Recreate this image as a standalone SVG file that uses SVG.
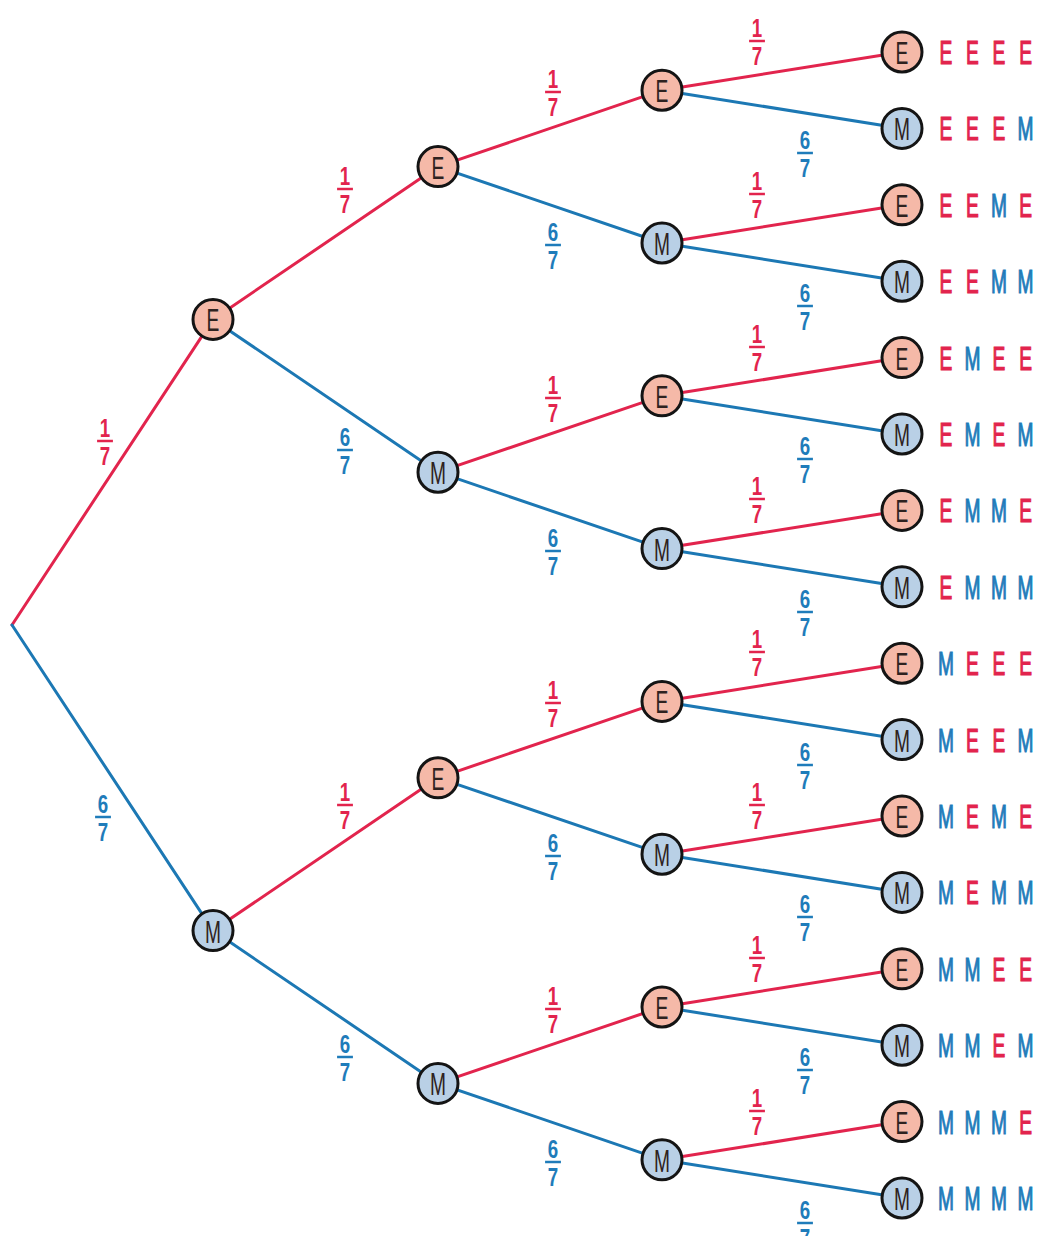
<svg xmlns="http://www.w3.org/2000/svg" width="1039" height="1236" viewBox="0 0 1039 1236">
  <defs>
    <style>
      .bg { fill: #ffffff; }
      .edge { stroke-width: 3; stroke-linecap: round; fill: none; }
      .re { stroke: #e2244d; }
      .be { stroke: #1c78b4; }
      .node circle { stroke: #141414; stroke-width: 3; }
      .ne circle { fill: #f5b9a8; }
      .nm circle { fill: #b9d0e6; }
      .node text { font-family: "Liberation Sans", Arial, sans-serif; font-size: 32px; fill: #2e2220; text-anchor: middle; }
      .frac text { font-family: "Liberation Sans", Arial, sans-serif; font-size: 26px; font-weight: bold; text-anchor: middle; }
      .fr text { fill: #e2244d; }
      .fr line { stroke: #e2244d; }
      .fb text { fill: #1f7cba; }
      .fb line { stroke: #1f7cba; }
      .frac line { stroke-width: 2.5; }
      .out text { font-family: "Liberation Sans", Arial, sans-serif; font-size: 33px; text-anchor: middle; stroke-width: 1.2; }
      .e { fill: #e2244d; stroke: #e2244d; }
      .m { fill: #1f7cba; stroke: #1f7cba; }
    </style>
    <!-- fraction templates: numerator, bar, denominator around the bar centre -->
    <g id="f17" class="frac fr">
      <text x="0" y="-4">1</text>
      <line x1="-11" y1="0" x2="11" y2="0"/>
      <text x="0" y="24">7</text>
    </g>
    <g id="f67" class="frac fb">
      <text x="0" y="-4">6</text>
      <line x1="-11" y1="0" x2="11" y2="0"/>
      <text x="0" y="24">7</text>
    </g>
  </defs>

  <rect class="bg" x="0" y="0" width="1039" height="1236"/>

  <!-- branches -->
  <g id="connectors">
    <line class="edge re" x1="12" y1="625" x2="213" y2="319.4"/>
    <line class="edge be" x1="12" y1="625" x2="213" y2="930.6"/>

    <line class="edge re" x1="213" y1="319.4" x2="438" y2="166.6"/>
    <line class="edge be" x1="213" y1="319.4" x2="438" y2="472.2"/>
    <line class="edge re" x1="213" y1="930.6" x2="438" y2="777.8"/>
    <line class="edge be" x1="213" y1="930.6" x2="438" y2="1083.4"/>

    <line class="edge re" x1="438" y1="166.6" x2="662" y2="90.2"/>
    <line class="edge be" x1="438" y1="166.6" x2="662" y2="243"/>
    <line class="edge re" x1="438" y1="472.2" x2="662" y2="395.8"/>
    <line class="edge be" x1="438" y1="472.2" x2="662" y2="548.6"/>
    <line class="edge re" x1="438" y1="777.8" x2="662" y2="701.4"/>
    <line class="edge be" x1="438" y1="777.8" x2="662" y2="854.2"/>
    <line class="edge re" x1="438" y1="1083.4" x2="662" y2="1007"/>
    <line class="edge be" x1="438" y1="1083.4" x2="662" y2="1159.8"/>

    <line class="edge re" x1="662" y1="90.2" x2="902" y2="52"/>
    <line class="edge be" x1="662" y1="90.2" x2="902" y2="128.4"/>
    <line class="edge re" x1="662" y1="243" x2="902" y2="204.8"/>
    <line class="edge be" x1="662" y1="243" x2="902" y2="281.2"/>
    <line class="edge re" x1="662" y1="395.8" x2="902" y2="357.6"/>
    <line class="edge be" x1="662" y1="395.8" x2="902" y2="434"/>
    <line class="edge re" x1="662" y1="548.6" x2="902" y2="510.4"/>
    <line class="edge be" x1="662" y1="548.6" x2="902" y2="586.8"/>
    <line class="edge re" x1="662" y1="701.4" x2="902" y2="663.2"/>
    <line class="edge be" x1="662" y1="701.4" x2="902" y2="739.6"/>
    <line class="edge re" x1="662" y1="854.2" x2="902" y2="816"/>
    <line class="edge be" x1="662" y1="854.2" x2="902" y2="892.4"/>
    <line class="edge re" x1="662" y1="1007" x2="902" y2="968.8"/>
    <line class="edge be" x1="662" y1="1007" x2="902" y2="1045.2"/>
    <line class="edge re" x1="662" y1="1159.8" x2="902" y2="1121.6"/>
    <line class="edge be" x1="662" y1="1159.8" x2="902" y2="1198"/>
  </g>

  <!-- branch probabilities -->
  <g id="probabilities">
    <use href="#f17" transform="translate(105,441) scale(0.72,1)"/>
    <use href="#f67" transform="translate(103,817) scale(0.72,1)"/>

    <use href="#f17" transform="translate(345,189) scale(0.72,1)"/>
    <use href="#f67" transform="translate(345,450) scale(0.72,1)"/>
    <use href="#f17" transform="translate(345,805) scale(0.72,1)"/>
    <use href="#f67" transform="translate(345,1057) scale(0.72,1)"/>

    <use href="#f17" transform="translate(553,92) scale(0.72,1)"/>
    <use href="#f67" transform="translate(553,245) scale(0.72,1)"/>
    <use href="#f17" transform="translate(553,398) scale(0.72,1)"/>
    <use href="#f67" transform="translate(553,551) scale(0.72,1)"/>
    <use href="#f17" transform="translate(553,703) scale(0.72,1)"/>
    <use href="#f67" transform="translate(553,856) scale(0.72,1)"/>
    <use href="#f17" transform="translate(553,1009) scale(0.72,1)"/>
    <use href="#f67" transform="translate(553,1162) scale(0.72,1)"/>

    <use href="#f17" transform="translate(757,41) scale(0.72,1)"/>
    <use href="#f67" transform="translate(805,153) scale(0.72,1)"/>
    <use href="#f17" transform="translate(757,194) scale(0.72,1)"/>
    <use href="#f67" transform="translate(805,306) scale(0.72,1)"/>
    <use href="#f17" transform="translate(757,347) scale(0.72,1)"/>
    <use href="#f67" transform="translate(805,459) scale(0.72,1)"/>
    <use href="#f17" transform="translate(757,499) scale(0.72,1)"/>
    <use href="#f67" transform="translate(805,612) scale(0.72,1)"/>
    <use href="#f17" transform="translate(757,652) scale(0.72,1)"/>
    <use href="#f67" transform="translate(805,765) scale(0.72,1)"/>
    <use href="#f17" transform="translate(757,805) scale(0.72,1)"/>
    <use href="#f67" transform="translate(805,917) scale(0.72,1)"/>
    <use href="#f17" transform="translate(757,958) scale(0.72,1)"/>
    <use href="#f67" transform="translate(805,1070) scale(0.72,1)"/>
    <use href="#f17" transform="translate(757,1111) scale(0.72,1)"/>
    <use href="#f67" transform="translate(805,1223) scale(0.72,1)"/>
  </g>

  <!-- level 1 -->
  <g id="n-E" class="node ne" transform="translate(213,319.4)"><circle r="20"/><text transform="scale(0.6,1)" y="12">E</text></g>
  <g id="n-M" class="node nm" transform="translate(213,930.6)"><circle r="20"/><text transform="scale(0.6,1)" y="12">M</text></g>

  <!-- level 2 -->
  <g id="n-EE" class="node ne" transform="translate(438,166.6)"><circle r="20"/><text transform="scale(0.6,1)" y="12">E</text></g>
  <g id="n-EM" class="node nm" transform="translate(438,472.2)"><circle r="20"/><text transform="scale(0.6,1)" y="12">M</text></g>
  <g id="n-ME" class="node ne" transform="translate(438,777.8)"><circle r="20"/><text transform="scale(0.6,1)" y="12">E</text></g>
  <g id="n-MM" class="node nm" transform="translate(438,1083.4)"><circle r="20"/><text transform="scale(0.6,1)" y="12">M</text></g>

  <!-- level 3 -->
  <g id="n-EEE" class="node ne" transform="translate(662,90.2)"><circle r="20"/><text transform="scale(0.6,1)" y="12">E</text></g>
  <g id="n-EEM" class="node nm" transform="translate(662,243)"><circle r="20"/><text transform="scale(0.6,1)" y="12">M</text></g>
  <g id="n-EME" class="node ne" transform="translate(662,395.8)"><circle r="20"/><text transform="scale(0.6,1)" y="12">E</text></g>
  <g id="n-EMM" class="node nm" transform="translate(662,548.6)"><circle r="20"/><text transform="scale(0.6,1)" y="12">M</text></g>
  <g id="n-MEE" class="node ne" transform="translate(662,701.4)"><circle r="20"/><text transform="scale(0.6,1)" y="12">E</text></g>
  <g id="n-MEM" class="node nm" transform="translate(662,854.2)"><circle r="20"/><text transform="scale(0.6,1)" y="12">M</text></g>
  <g id="n-MME" class="node ne" transform="translate(662,1007)"><circle r="20"/><text transform="scale(0.6,1)" y="12">E</text></g>
  <g id="n-MMM" class="node nm" transform="translate(662,1159.8)"><circle r="20"/><text transform="scale(0.6,1)" y="12">M</text></g>

  <!-- level 4 (leaves) -->
  <g id="n-EEEE" class="node ne" transform="translate(902,52)"><circle r="20"/><text transform="scale(0.6,1)" y="12">E</text></g>
  <g id="n-EEEM" class="node nm" transform="translate(902,128.4)"><circle r="20"/><text transform="scale(0.6,1)" y="12">M</text></g>
  <g id="n-EEME" class="node ne" transform="translate(902,204.8)"><circle r="20"/><text transform="scale(0.6,1)" y="12">E</text></g>
  <g id="n-EEMM" class="node nm" transform="translate(902,281.2)"><circle r="20"/><text transform="scale(0.6,1)" y="12">M</text></g>
  <g id="n-EMEE" class="node ne" transform="translate(902,357.6)"><circle r="20"/><text transform="scale(0.6,1)" y="12">E</text></g>
  <g id="n-EMEM" class="node nm" transform="translate(902,434)"><circle r="20"/><text transform="scale(0.6,1)" y="12">M</text></g>
  <g id="n-EMME" class="node ne" transform="translate(902,510.4)"><circle r="20"/><text transform="scale(0.6,1)" y="12">E</text></g>
  <g id="n-EMMM" class="node nm" transform="translate(902,586.8)"><circle r="20"/><text transform="scale(0.6,1)" y="12">M</text></g>
  <g id="n-MEEE" class="node ne" transform="translate(902,663.2)"><circle r="20"/><text transform="scale(0.6,1)" y="12">E</text></g>
  <g id="n-MEEM" class="node nm" transform="translate(902,739.6)"><circle r="20"/><text transform="scale(0.6,1)" y="12">M</text></g>
  <g id="n-MEME" class="node ne" transform="translate(902,816)"><circle r="20"/><text transform="scale(0.6,1)" y="12">E</text></g>
  <g id="n-MEMM" class="node nm" transform="translate(902,892.4)"><circle r="20"/><text transform="scale(0.6,1)" y="12">M</text></g>
  <g id="n-MMEE" class="node ne" transform="translate(902,968.8)"><circle r="20"/><text transform="scale(0.6,1)" y="12">E</text></g>
  <g id="n-MMEM" class="node nm" transform="translate(902,1045.2)"><circle r="20"/><text transform="scale(0.6,1)" y="12">M</text></g>
  <g id="n-MMME" class="node ne" transform="translate(902,1121.6)"><circle r="20"/><text transform="scale(0.6,1)" y="12">E</text></g>
  <g id="n-MMMM" class="node nm" transform="translate(902,1198)"><circle r="20"/><text transform="scale(0.6,1)" y="12">M</text></g>

  <!-- outcome sequences -->
  <g id="outcomes" class="out">
    <g transform="translate(946,64) scale(0.58,1)"><text><tspan x="0" class="e">E</tspan><tspan x="45.7" class="e">E</tspan><tspan x="91.4" class="e">E</tspan><tspan x="137.1" class="e">E</tspan></text></g>
    <g transform="translate(946,140.4) scale(0.58,1)"><text><tspan x="0" class="e">E</tspan><tspan x="45.7" class="e">E</tspan><tspan x="91.4" class="e">E</tspan><tspan x="137.1" class="m">M</tspan></text></g>
    <g transform="translate(946,216.8) scale(0.58,1)"><text><tspan x="0" class="e">E</tspan><tspan x="45.7" class="e">E</tspan><tspan x="91.4" class="m">M</tspan><tspan x="137.1" class="e">E</tspan></text></g>
    <g transform="translate(946,293.2) scale(0.58,1)"><text><tspan x="0" class="e">E</tspan><tspan x="45.7" class="e">E</tspan><tspan x="91.4" class="m">M</tspan><tspan x="137.1" class="m">M</tspan></text></g>
    <g transform="translate(946,369.6) scale(0.58,1)"><text><tspan x="0" class="e">E</tspan><tspan x="45.7" class="m">M</tspan><tspan x="91.4" class="e">E</tspan><tspan x="137.1" class="e">E</tspan></text></g>
    <g transform="translate(946,446) scale(0.58,1)"><text><tspan x="0" class="e">E</tspan><tspan x="45.7" class="m">M</tspan><tspan x="91.4" class="e">E</tspan><tspan x="137.1" class="m">M</tspan></text></g>
    <g transform="translate(946,522.4) scale(0.58,1)"><text><tspan x="0" class="e">E</tspan><tspan x="45.7" class="m">M</tspan><tspan x="91.4" class="m">M</tspan><tspan x="137.1" class="e">E</tspan></text></g>
    <g transform="translate(946,598.8) scale(0.58,1)"><text><tspan x="0" class="e">E</tspan><tspan x="45.7" class="m">M</tspan><tspan x="91.4" class="m">M</tspan><tspan x="137.1" class="m">M</tspan></text></g>
    <g transform="translate(946,675.2) scale(0.58,1)"><text><tspan x="0" class="m">M</tspan><tspan x="45.7" class="e">E</tspan><tspan x="91.4" class="e">E</tspan><tspan x="137.1" class="e">E</tspan></text></g>
    <g transform="translate(946,751.6) scale(0.58,1)"><text><tspan x="0" class="m">M</tspan><tspan x="45.7" class="e">E</tspan><tspan x="91.4" class="e">E</tspan><tspan x="137.1" class="m">M</tspan></text></g>
    <g transform="translate(946,828) scale(0.58,1)"><text><tspan x="0" class="m">M</tspan><tspan x="45.7" class="e">E</tspan><tspan x="91.4" class="m">M</tspan><tspan x="137.1" class="e">E</tspan></text></g>
    <g transform="translate(946,904.4) scale(0.58,1)"><text><tspan x="0" class="m">M</tspan><tspan x="45.7" class="e">E</tspan><tspan x="91.4" class="m">M</tspan><tspan x="137.1" class="m">M</tspan></text></g>
    <g transform="translate(946,980.8) scale(0.58,1)"><text><tspan x="0" class="m">M</tspan><tspan x="45.7" class="m">M</tspan><tspan x="91.4" class="e">E</tspan><tspan x="137.1" class="e">E</tspan></text></g>
    <g transform="translate(946,1057.2) scale(0.58,1)"><text><tspan x="0" class="m">M</tspan><tspan x="45.7" class="m">M</tspan><tspan x="91.4" class="e">E</tspan><tspan x="137.1" class="m">M</tspan></text></g>
    <g transform="translate(946,1133.6) scale(0.58,1)"><text><tspan x="0" class="m">M</tspan><tspan x="45.7" class="m">M</tspan><tspan x="91.4" class="m">M</tspan><tspan x="137.1" class="e">E</tspan></text></g>
    <g transform="translate(946,1210) scale(0.58,1)"><text><tspan x="0" class="m">M</tspan><tspan x="45.7" class="m">M</tspan><tspan x="91.4" class="m">M</tspan><tspan x="137.1" class="m">M</tspan></text></g>
  </g>
</svg>
